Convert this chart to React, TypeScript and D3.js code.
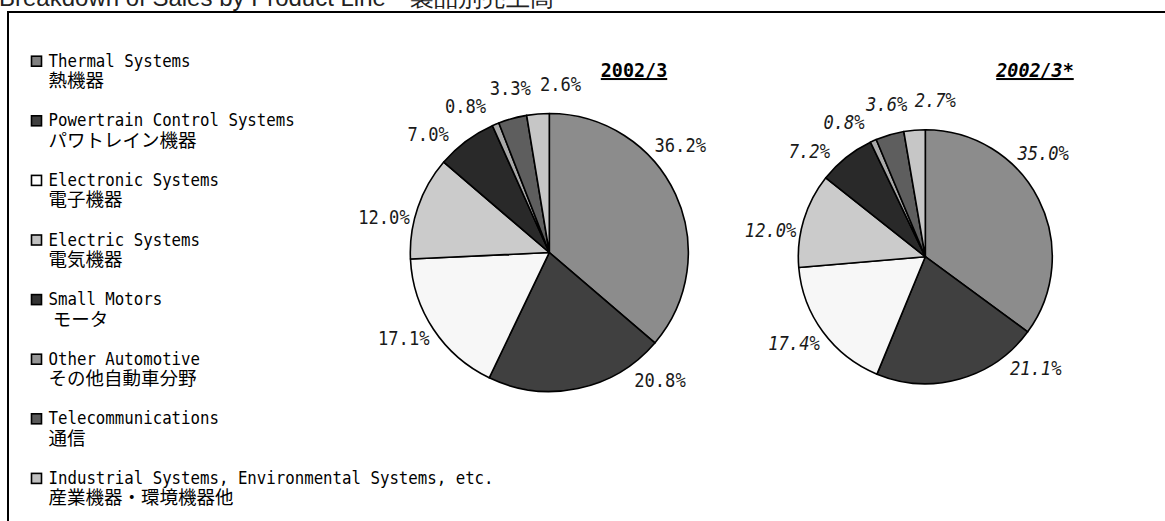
import * as d3 from "d3";

// product lines (legend order = slice order, clockwise from 12 o'clock)
const categories = [
  "Thermal Systems",
  "Powertrain Control Systems",
  "Electronic Systems",
  "Electric Systems",
  "Small Motors",
  "Other Automotive",
  "Telecommunications",
  "Industrial Systems, Environmental Systems, etc.",
];
const categoriesJa = [
  "熱機器",
  "パワトレイン機器",
  "電子機器",
  "電気機器",
  " モータ",
  "その他自動車分野",
  "通信",
  "産業機器・環境機器他",
];
const sales2002 = [36.2, 20.8, 17.1, 12.0, 7.0, 0.8, 3.3, 2.6];
const sales2002Adj = [35.0, 21.1, 17.4, 12.0, 7.2, 0.8, 3.6, 2.7];
const pieTitles = ["2002/3", "2002/3*"];
const chartTitle = "Breakdown of Sales by Product Line\u3000製品別売上高";

const fills = ["#8c8c8c", "#404040", "#f7f7f7", "#cbcbcb", "#292929", "#a9a9a9", "#5e5e5e", "#c6c6c6"];
const swatch = ["#808080", "#404040", "#ffffff", "#c0c0c0", "#333333", "#969696", "#595959", "#c0c0c0"];
// excel moved some labels off the mid angle (degrees)
const labelNudge = [-14.5, -29, 3, -7, -9, -7, 2, 8.5];

const W = 1165;
const H = 521;
const mono = "'DejaVu Sans Mono', monospace";
const jp = "'Noto Sans CJK JP', sans-serif";
const fmt = d3.format(".1f");

type PieProps = {
  values: number[];
  cx: number;
  cy: number;
  r: number;
  title: string;
  titleX: number;
  italic: boolean;
};

const Pie = ({ values, cx, cy, r, title, titleX, italic }: PieProps) => {
  const arcs = d3.pie<number>().sort(null).value((d) => d)(values);
  const arc = d3.arc<d3.PieArcDatum<number>>().innerRadius(0).outerRadius(r);
  const labelR = r + 30;
  return (
    <g>
      <g transform={`translate(${cx},${cy})`}>
        {arcs.map((a, i) => (
          <path key={i} d={arc(a)!} fill={fills[i]} stroke="#000" strokeWidth={1.6} strokeLinejoin="round" />
        ))}
        {arcs.map((a, i) => {
          const ang = (a.startAngle + a.endAngle) / 2 + (labelNudge[i] * Math.PI) / 180;
          const lx = labelR * Math.sin(ang);
          const ly = -labelR * Math.cos(ang);
          return (
            <text
              key={i}
              transform={`translate(${lx},${ly}) scale(0.9,1)`}
              textAnchor="middle"
              dominantBaseline="central"
              fontFamily={mono}
              fontSize={19}
              fontStyle={italic ? "italic" : "normal"}
              fill="#1a1a1a"
            >
              {fmt(a.data)}%
            </text>
          );
        })}
      </g>
      <text
        transform={`translate(${titleX},77) scale(0.92,1)`}
        textAnchor="middle"
        fontFamily={mono}
        fontSize={20}
        fontWeight="bold"
        fontStyle={italic ? "italic" : "normal"}
        textDecoration="underline"
        fill="#000"
      >
        {title}
      </text>
    </g>
  );
};

export default function App() {
  const rowY = d3.scaleLinear().domain([0, 1]).range([66.7, 126.3]);
  return (
    <svg
      width={W}
      height={H}
      viewBox={`0 0 ${W} ${H}`}
      style={{ position: "fixed", left: 0, top: 0, background: "#fff" }}
    >
      <rect width={W} height={H} fill="#fff" />
      <text x={-1} y={6} fontFamily="'Liberation Sans', Arial, sans-serif" fontSize={24} fill="#222">
        {chartTitle}
      </text>
      <line x1={8} y1={12} x2={W} y2={12} stroke="#000" strokeWidth={2} />
      <line x1={8} y1={11} x2={8} y2={H} stroke="#000" strokeWidth={2} />

      {categories.map((c, i) => {
        const y = rowY(i);
        return (
          <g key={c}>
            <rect x={31.5} y={y - 10.5} width={10} height={10} fill={swatch[i]} stroke="#000" strokeWidth={1.6} />
            <text
              transform={`translate(48.5,${y}) scale(0.9,1)`}
              fontFamily={mono}
              fontSize={17.5}
              fill="#000"
              style={{ whiteSpace: "pre" }}
            >
              {c}
            </text>
            <text x={48.5} y={y + 20.5} fontFamily={jp} fontSize={18.5} fill="#000" style={{ whiteSpace: "pre" }}>
              {categoriesJa[i]}
            </text>
          </g>
        );
      })}

      <Pie values={sales2002} cx={549.3} cy={252.5} r={139} title={pieTitles[0]} titleX={634} italic={false} />
      <Pie values={sales2002Adj} cx={925.3} cy={256.7} r={127} title={pieTitles[1]} titleX={1035} italic={true} />
    </svg>
  );
}
